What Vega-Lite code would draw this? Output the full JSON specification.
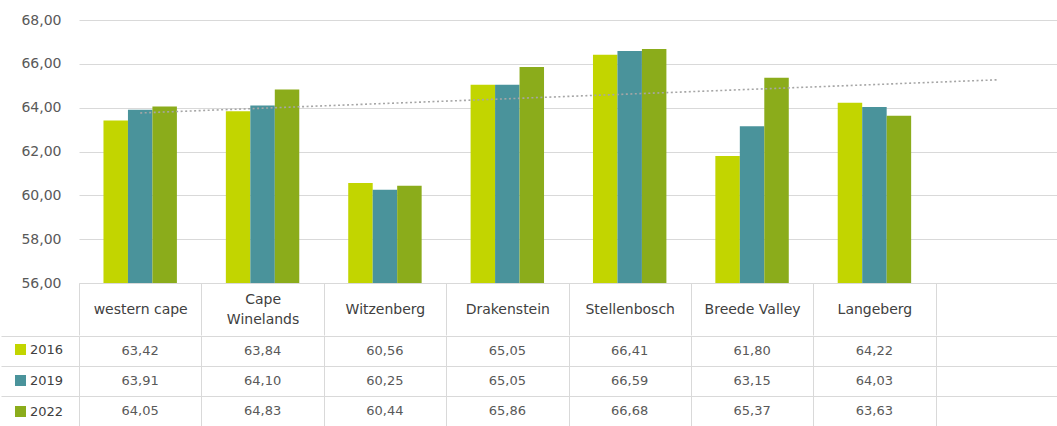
{
  "$schema": "https://vega.github.io/schema/vega-lite/v6.json",
  "padding": {"top": 13, "left": 0, "right": 0, "bottom": 0},
  "background": "white",
  "config": {
    "font": "DejaVu Sans",
    "view": {"stroke": null},
    "locale": {"number": {"decimal": ",", "thousands": ".", "grouping": [3], "currency": ["", ""]}}
  },
  "datasets": {
    "vals": [
      {"category": "western cape", "year": "2016", "value": 63.42},
      {"category": "western cape", "year": "2019", "value": 63.91},
      {"category": "western cape", "year": "2022", "value": 64.05},
      {"category": "Cape Winelands", "year": "2016", "value": 63.84},
      {"category": "Cape Winelands", "year": "2019", "value": 64.10},
      {"category": "Cape Winelands", "year": "2022", "value": 64.83},
      {"category": "Witzenberg", "year": "2016", "value": 60.56},
      {"category": "Witzenberg", "year": "2019", "value": 60.25},
      {"category": "Witzenberg", "year": "2022", "value": 60.44},
      {"category": "Drakenstein", "year": "2016", "value": 65.05},
      {"category": "Drakenstein", "year": "2019", "value": 65.05},
      {"category": "Drakenstein", "year": "2022", "value": 65.86},
      {"category": "Stellenbosch", "year": "2016", "value": 66.41},
      {"category": "Stellenbosch", "year": "2019", "value": 66.59},
      {"category": "Stellenbosch", "year": "2022", "value": 66.68},
      {"category": "Breede Valley", "year": "2016", "value": 61.80},
      {"category": "Breede Valley", "year": "2019", "value": 63.15},
      {"category": "Breede Valley", "year": "2022", "value": 65.37},
      {"category": "Langeberg", "year": "2016", "value": 64.22},
      {"category": "Langeberg", "year": "2019", "value": 64.03},
      {"category": "Langeberg", "year": "2022", "value": 63.63}
    ],
    "trend": [
      {"category": "western cape", "value": 63.76},
      {"category": " ", "value": 65.27}
    ]
  },
  "spacing": -2,
  "resolve": {"scale": {"x": "independent", "y": "independent", "color": "shared"}, "axis": {"x": "independent", "y": "independent"}},
  "vconcat": [
    {
      "width": 979,
      "height": 263,
      "layer": [
        {
          "data": {"name": "vals"},
          "mark": {"type": "bar", "clip": true},
          "encoding": {
            "x": {
              "field": "category", "type": "nominal", "sort": null,
              "scale": {"domain": ["western cape", "Cape Winelands", "Witzenberg", "Drakenstein", "Stellenbosch", "Breede Valley", "Langeberg", " "], "paddingInner": 0, "paddingOuter": 0},
              "axis": {
                "title": null, "labelAngle": 0, "domain": true, "domainColor": "#d9d9d9",
                "ticks": true, "tickBand": "extent", "tickSize": 52, "tickColor": "#d9d9d9",
                "labelPadding": -26,
                "labelBaseline": {"condition": {"test": "datum.label == 'Cape Winelands'", "value": "line-bottom"}, "value": "middle"},
                "labelFontSize": 14, "labelColor": "#404040",
                "labelOverlap": false, "labelExpr": "datum.label == 'Cape Winelands' ? ['Cape', 'Winelands'] : datum.label",
                "labelLineHeight": 20,
                "grid": false, "minExtent": 50, "maxExtent": 50
              }
            },
            "xOffset": {"field": "year", "type": "nominal", "scale": {"paddingInner": 0, "paddingOuter": 1.05}},
            "y": {
              "field": "value", "type": "quantitative",
              "scale": {"domain": [56, 68], "zero": false, "nice": false},
              "axis": {
                "title": null, "format": ".2f", "values": [56, 58, 60, 62, 64, 66, 68],
                "grid": true, "gridColor": "#d9d9d9", "domain": false, "ticks": false,
                "labelPadding": 18, "labelFontSize": 14, "labelColor": "#595959",
                "minExtent": 78, "maxExtent": 78
              }
            },
            "color": {
              "field": "year", "type": "nominal",
              "scale": {"domain": ["2016", "2019", "2022"], "range": ["#c2d500", "#4a939b", "#8bac1b"]},
              "legend": {
                "title": null, "orient": "none", "legendX": -65, "legendY": 323,
                "symbolType": "square", "symbolSize": 121, "symbolStrokeWidth": 0,
                "labelFontSize": 13, "labelColor": "#404040", "labelOffset": 3, "rowPadding": 17, "padding": 0
              }
            }
          }
        },
        {
          "data": {"name": "trend"},
          "mark": {"type": "line", "color": "#a6a6a6", "strokeWidth": 1.6, "strokeDash": [2, 2.5]},
          "encoding": {
            "x": {"field": "category", "type": "nominal", "sort": null},
            "y": {"field": "value", "type": "quantitative"}
          }
        }
      ]
    },
    {
      "width": 979,
      "height": 90,
      "data": {"name": "vals"},
      "mark": {"type": "text", "fontSize": 13, "color": "#595959"},
      "encoding": {
        "x": {
          "field": "category", "type": "nominal", "sort": null,
          "scale": {"domain": ["western cape", "Cape Winelands", "Witzenberg", "Drakenstein", "Stellenbosch", "Breede Valley", "Langeberg", " "], "paddingInner": 0, "paddingOuter": 0},
          "axis": {"title": null, "labels": false, "ticks": false, "domain": false, "grid": true, "gridColor": "#d9d9d9", "tickBand": "extent", "minExtent": 0, "maxExtent": 0}
        },
        "y": {
          "field": "year", "type": "nominal",
          "scale": {"domain": ["2016", "2019", "2022"], "paddingInner": 0, "paddingOuter": 0},
          "axis": {"title": null, "labels": false, "domain": false, "grid": true, "gridColor": "#d9d9d9", "tickBand": "extent", "ticks": true, "tickSize": 78, "tickColor": "#d9d9d9", "minExtent": 78, "maxExtent": 78}
        },
        "text": {"field": "value", "type": "quantitative", "format": ".2f"}
      }
    }
  ]
}
